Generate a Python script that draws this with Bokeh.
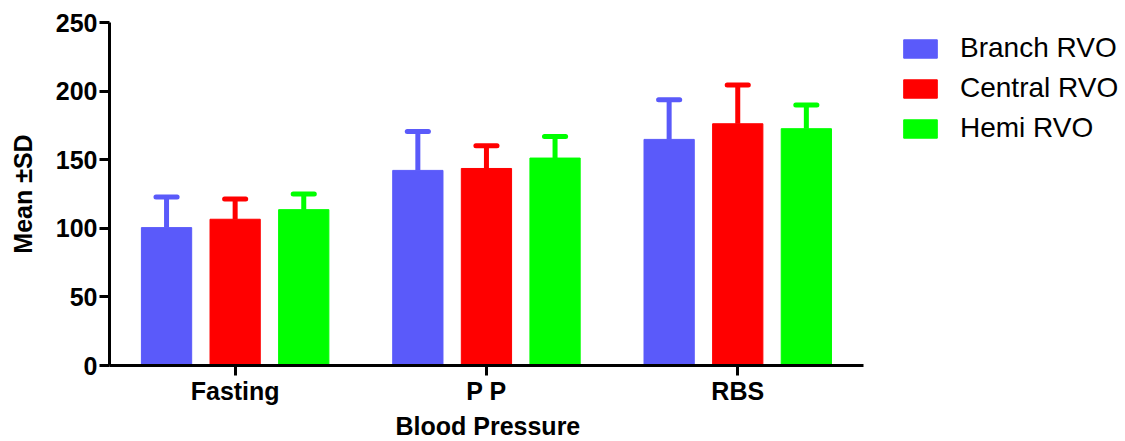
from bokeh.plotting import figure
from bokeh.models import (ColumnDataSource, Range1d, Legend, LegendItem,
                          FixedTicker, Title)
from bokeh.transform import dodge
from bokeh.embed import file_html
from bokeh.resources import INLINE

categories = ["Fasting", "P P", "RBS"]
series = ["Branch RVO", "Central RVO", "Hemi RVO"]
colors = ["#5A5AFA", "#FF0000", "#00FF00"]
branch_mean = [100.5, 142.2, 164.8]
branch_sd = [22.3, 28.4, 28.9]
central_mean = [106.6, 143.6, 176.2]
central_sd = [14.8, 16.6, 28.2]
hemi_mean = [113.6, 151.2, 172.6]
hemi_sd = [11.4, 15.8, 17.2]

means = [branch_mean, central_mean, hemi_mean]
sds = [branch_sd, central_sd, hemi_sd]
offsets = [-0.273, 0.0, 0.273]
cat_pos = [i + 0.5 for i in range(len(categories))]

p = figure(width=1125, height=441, output_backend="svg", toolbar_location=None,
           x_range=Range1d(0, 4.043), y_range=Range1d(0, 250),
           min_border_left=109, min_border_right=0, min_border_top=22,
           min_border_bottom=76)
p.outline_line_color = None
p.xgrid.visible = False
p.ygrid.visible = False
p.background_fill_color = "white"
p.border_fill_color = "white"

items = []
for name, col, m, s, off in zip(series, colors, means, sds, offsets):
    src = ColumnDataSource(dict(pos=cat_pos, mean=m,
                                upper=[a + b for a, b in zip(m, s)]))
    r = p.vbar(x=dodge("pos", off), top="mean", bottom=0,
               width=0.2, source=src, fill_color=col, line_color=col, line_width=1)
    p.segment(x0=dodge("pos", off), y0="mean", x1=dodge("pos", off), y1="upper",
              source=src, line_color=col, line_width=5)
    p.segment(x0=dodge("pos", off - 0.042), y0="upper",
              x1=dodge("pos", off + 0.042), y1="upper",
              source=src, line_color=col, line_width=5, line_cap="round")
    items.append(LegendItem(label=name, renderers=[r]))

font = "Liberation Sans"
for ax in (p.xaxis[0], p.yaxis[0]):
    ax.axis_line_width = 3
    ax.axis_line_color = "black"
    ax.major_tick_line_width = 3
    ax.major_tick_line_color = "black"
    ax.major_tick_out = 10
    ax.major_tick_in = 0
    ax.minor_tick_line_color = None
    ax.major_label_text_font = font
    ax.major_label_text_font_style = "bold"
    ax.major_label_text_font_size = "25px"
    ax.major_label_text_color = "black"
    ax.axis_label_text_font = font
    ax.axis_label_text_font_style = "bold"
    ax.axis_label_text_font_size = "25px"
    ax.axis_label_text_color = "black"

p.yaxis.ticker = FixedTicker(ticks=[0, 50, 100, 150, 200, 250])
p.yaxis.major_label_standoff = 2
p.yaxis.axis_label = "Mean ±SD"
p.yaxis.axis_label_standoff = 16

p.xaxis.ticker = FixedTicker(ticks=cat_pos)
p.xaxis.major_label_overrides = {pos: c for pos, c in zip(cat_pos, categories)}
p.xaxis.bounds = (0, len(categories))
p.xaxis.major_label_standoff = 1

xtitle = Title(text="Blood Pressure", align="left", offset=286, standoff=4,
               text_font=font, text_font_style="bold", text_font_size="25px",
               text_color="black")
p.add_layout(xtitle, "below")

legend = Legend(items=items, location=(790, 221), orientation="vertical",
                glyph_width=42, glyph_height=23, label_standoff=19,
                label_text_font=font, label_text_font_size="28px",
                label_text_color="black", spacing=8, padding=0, margin=0,
                border_line_color=None, background_fill_alpha=0)
p.add_layout(legend, "center")

open("out.html", "w").write(file_html(p, INLINE))
